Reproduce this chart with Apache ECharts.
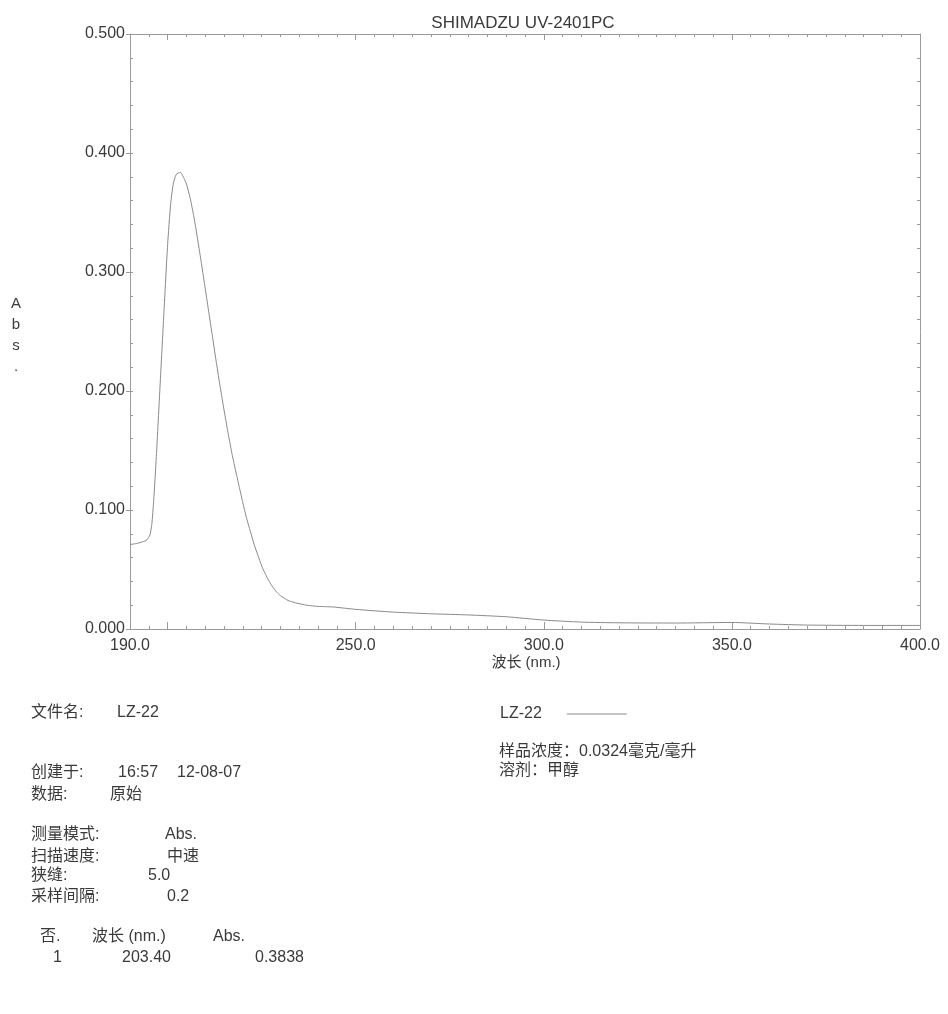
<!DOCTYPE html>
<html>
<head>
<meta charset="utf-8">
<script src="https://cdn.jsdelivr.net/npm/echarts@6/dist/echarts.min.js"></script>
<style>
html,body{margin:0;padding:0;background:#fff;}
#chart{width:948px;height:1014px;}
</style>
</head>
<body>
<div id="chart"></div>
<script>
// ---- data ----
var titleText = 'SHIMADZU UV-2401PC';
var seriesName = 'LZ-22';
var wavelengths = [190, 192, 194, 194.5, 195.3, 195.8, 196.3, 197, 198, 199, 200, 200.8, 201.5, 202.3, 203.4, 204, 205, 206, 207, 208, 209, 210, 211, 212, 213, 214, 215, 216, 217, 218, 219, 220, 221, 222, 223, 224, 225, 226, 227, 228, 229, 230, 232, 234, 237, 240, 244, 250, 260, 270, 280, 290, 300, 310, 320, 335, 350, 360, 370, 385, 400];
var absorbance  = [0.071, 0.072, 0.074, 0.075, 0.079, 0.088, 0.108, 0.145, 0.205, 0.265, 0.323, 0.357, 0.374, 0.382, 0.3838, 0.381, 0.374, 0.362, 0.346, 0.327, 0.307, 0.286, 0.265, 0.244, 0.223, 0.203, 0.184, 0.166, 0.149, 0.134, 0.120, 0.106, 0.093, 0.082, 0.071, 0.062, 0.053, 0.046, 0.040, 0.035, 0.031, 0.028, 0.024, 0.022, 0.020, 0.019, 0.0185, 0.0165, 0.0142, 0.0128, 0.0118, 0.0103, 0.0075, 0.0058, 0.0052, 0.0050, 0.0055, 0.0042, 0.0033, 0.0030, 0.0030];
var xLabelValues = [190, 250, 300, 350, 400];
var xMajorTicks = [200, 250, 300, 350];
var xMinorStep = 5;
var yLabelValues = [0, 0.1, 0.2, 0.3, 0.4, 0.5];
var yMinorStep = 0.02;
var xAxisName = '波长 (nm.)';
var yAxisName = 'A\nb\ns\n.';
var infoLabels = ['文件名:', '创建于:', '数据:', '测量模式:', '扫描速度:', '狭缝:', '采样间隔:'];
var infoValues = [['LZ-22'], ['16:57', '12-08-07'], ['原始'], ['Abs.'], ['中速'], ['5.0'], ['0.2']];
var peakHeader = ['否.', '波长 (nm.)', 'Abs.'];
var peakRow = ['1', '203.40', '0.3838'];
var sampleNotes = ['样品浓度：0.0324毫克/毫升', '溶剂：甲醇'];

// ---- build ----
var FONT = '"Liberation Sans", Arial, "Noto Sans CJK SC", sans-serif';
var TXT = '#3a3a3a';
var AX = '#9a9a9a';

function range(a, b, s) {
  var out = [];
  var n = Math.round((b - a) / s);
  for (var i = 0; i <= n; i++) out.push(+(a + i * s).toFixed(6));
  return out;
}
var xMinorTicks = range(190, 400, xMinorStep);
var yMinorTicks = range(0, 0.5, yMinorStep);

var lineData = wavelengths.map(function (w, i) { return [w, absorbance[i]]; });

function xa(opts) {
  var base = {
    type: 'value', min: 190, max: 400, position: 'bottom',
    axisLine: { show: false, onZero: false, lineStyle: { color: AX, width: 1 } },
    axisTick: { show: false },
    axisLabel: { show: false },
    splitLine: { show: false }
  };
  return Object.assign(base, opts);
}
function ya(opts) {
  var base = {
    type: 'value', min: 0, max: 0.5, position: 'left',
    axisLine: { show: false, onZero: false, lineStyle: { color: AX, width: 1 } },
    axisTick: { show: false },
    axisLabel: { show: false },
    splitLine: { show: false }
  };
  return Object.assign(base, opts);
}

var graphics = [];
function addText(x, y, text, extra) {
  graphics.push(Object.assign({
    type: 'text', x: x, y: y,
    style: { text: text, fill: TXT, font: '16px ' + FONT, verticalAlign: 'middle', textVerticalAlign: 'middle', align: 'left' }
  }, extra || {}));
}

// title
addText(523, 23, titleText, { style: { text: titleText, fill: TXT, font: '17px ' + FONT, align: 'center', verticalAlign: 'middle', textVerticalAlign: 'middle', textAlign: 'center' } });
// y axis name
graphics.push({ type: 'text', x: 16, y: 293, style: { text: yAxisName, fill: TXT, font: '15px ' + FONT, align: 'center', textAlign: 'center', lineHeight: 21 } });
// x axis name
addText(526, 663, xAxisName, { style: { text: xAxisName, fill: TXT, font: '15px ' + FONT, align: 'center', textAlign: 'center', verticalAlign: 'middle', textVerticalAlign: 'middle' } });

// info block
var infoY = [713, 773, 795, 835, 857, 876, 897];
var infoValX = [[117], [118, 177], [110], [165], [167], [148], [167]];
infoLabels.forEach(function (lab, i) {
  addText(31, infoY[i], lab);
  infoValues[i].forEach(function (v, j) { addText(infoValX[i][j], infoY[i], v); });
});
var peakX = [[40, 92, 213], [53, 122, 255]];
peakHeader.forEach(function (t, j) { addText(peakX[0][j], 937, t); });
peakRow.forEach(function (t, j) { addText(peakX[1][j], 958, t); });
// sample notes
addText(499, 752, sampleNotes[0]);
addText(499, 771, sampleNotes[1]);

var option = {
  backgroundColor: '#ffffff',
  animation: false,
  grid: { left: 130, right: 28, top: 34, bottom: 385, containLabel: false },
  legend: {
    left: 495, top: 701, align: 'right', itemWidth: 60, itemHeight: 10, itemGap: 0,
    icon: 'path://M0,5L60,5L60,6L0,6Z',
    data: [{ name: seriesName, itemStyle: { color: '#8a8a8a' } }],
    textStyle: { color: TXT, fontSize: 16, fontFamily: FONT, padding: [0, 20, 0, 0] }
  },
  xAxis: [
    xa({
      axisLine: { show: true, onZero: false, lineStyle: { color: AX } },
      axisTick: { show: true, inside: true, length: 3, customValues: xMinorTicks, lineStyle: { color: AX } },
      axisLabel: { show: true, customValues: xLabelValues, margin: 9, color: TXT, fontSize: 16, fontFamily: FONT,
        formatter: function (v) { return v.toFixed(1); } }
    }),
    xa({ axisTick: { show: true, inside: true, length: 7, customValues: xMajorTicks, lineStyle: { color: AX } } }),
    xa({ position: 'top',
      axisLine: { show: true, onZero: false, lineStyle: { color: AX } },
      axisTick: { show: true, inside: true, length: 3, customValues: xMinorTicks, lineStyle: { color: AX } } }),
    xa({ position: 'top', axisTick: { show: true, inside: true, length: 6, customValues: xMajorTicks, lineStyle: { color: AX } } })
  ],
  yAxis: [
    ya({
      axisLine: { show: true, onZero: false, lineStyle: { color: AX } },
      axisTick: { show: true, inside: false, length: 4, customValues: yLabelValues, lineStyle: { color: AX } },
      axisLabel: { show: true, customValues: yLabelValues, margin: 5, color: TXT, fontSize: 16, fontFamily: FONT,
        formatter: function (v) { return v.toFixed(3); } }
    }),
    ya({ axisTick: { show: true, inside: true, length: 3, customValues: yMinorTicks, lineStyle: { color: AX } } }),
    ya({ position: 'right',
      axisLine: { show: true, onZero: false, lineStyle: { color: AX } },
      axisTick: { show: true, inside: true, length: 3, customValues: yMinorTicks, lineStyle: { color: AX } } })
  ],
  series: [{
    name: seriesName, type: 'line', xAxisIndex: 0, yAxisIndex: 0,
    data: lineData, smooth: 0.2, symbol: 'none', showSymbol: false,
    lineStyle: { color: '#8a8a8a', width: 1 }, itemStyle: { color: '#8a8a8a' }
  }],
  graphic: graphics
};

var chart = echarts.init(document.getElementById('chart'), null, { renderer: 'canvas' });
chart.setOption(option);
</script>
</body>
</html>
